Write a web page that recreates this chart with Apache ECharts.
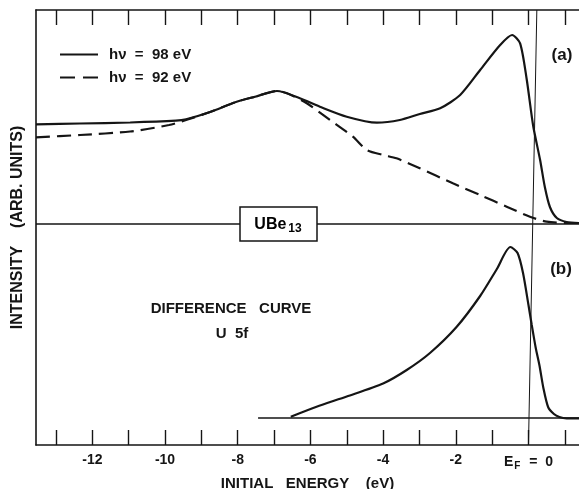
<!DOCTYPE html>
<html><head><meta charset="utf-8">
<script src="https://cdn.jsdelivr.net/npm/echarts@6/dist/echarts.min.js"></script>
<style>html,body{margin:0;padding:0;background:#fff}#c{width:579px;height:489px}</style>
</head><body><div id="c"></div>
<script>
const FONT = '"Liberation Sans", Arial, Helvetica, sans-serif';
const INK = '#151515';

// x axis (initial energy, eV)
const xTicks = [-13,-12,-11,-10,-9,-8,-7,-6,-5,-4,-3,-2,-1,0,1];
const xLabels = [-12,-10,-8,-6,-4,-2,0];

// panel (a): hv = 98 eV (solid)
const e98 = [-13.55,-12.34,-10.96,-9.70,-9.42,-8.76,-8.05,-7.52,-6.92,-6.29,-5.74,-5.00,-4.17,-3.54,-2.99,-2.43,-1.88,-1.33,-0.78,-0.45,-0.23,-0.05,0.13,0.32,0.45,0.59,0.78,1.05,1.39];
const i98 = [320.7,321.5,322.5,324.3,325.7,333,343,348.3,354,346.7,338.3,328.3,322.3,325,331,336.7,350,375,400,410,401.7,366,319,285,258,238,227,223,222];

// panel (a): hv = 92 eV (dashed)
const e92 = [-13.55,-12.34,-10.96,-9.89,-9.42,-8.76,-8.05,-7.52,-6.92,-6.64,-6.10,-5.46,-4.83,-4.45,-4.00,-3.63,-2.99,-2.08,-1.33,-0.60,0.04,0.50,1.05,1.39];
const i92 = [307.7,310,313.5,320,325,333,343,348.3,354,351.7,341.7,325,308.3,295,290,286.7,276.7,261.7,250,238.3,228.3,223.3,222,222];

// panel (b): difference curve, U 5f
const eDiff = [-6.54,-5.83,-5.0,-4.0,-3.35,-2.71,-1.98,-1.33,-0.87,-0.5,-0.3,-0.15,0.0,0.09,0.2,0.3,0.41,0.54,0.7,0.85,1.05,1.39];
const iDiff = [28.3,38.3,48.5,61.5,75,92,118,149,176,198,192,172,140,120,97,80,57,38,31,28,26.7,26.7];

// reference lines
const baseAE = [-13.55,1.39], baseAI = [221,221];
const baseBE = [-7.44,1.39], baseBI = [27,27];
const efE = [0.23,0], efI = [435,0];

const zip = (a,b) => a.map((v,k)=>[v,b[k]]);
const XMIN = -13.55, XMAX = 1.39;

const chart = echarts.init(document.getElementById('c'));
const tickStyle = {inside:true, length:15, customValues:xTicks, lineStyle:{color:INK,width:1.4}};
const txt = (size) => ({fontFamily:FONT, fontWeight:'bold', fontSize:size, color:INK});

chart.setOption({
  backgroundColor:'#fff',
  animation:false,
  grid:{left:36,right:0,top:10,bottom:44,containLabel:false,outerBoundsMode:'none'},
  xAxis:[{
    type:'value', min:XMIN, max:XMAX, position:'bottom',
    axisLine:{onZero:false, lineStyle:{color:INK,width:1.6}},
    axisTick:tickStyle,
    splitLine:{show:false},
    axisLabel:Object.assign({
      customValues:xLabels, margin:8,
      formatter:v => v===0 ? '{e|E}{s|F}{e|  =  0}' : '-' + Math.abs(v),
      rich:{e:txt(14), s:Object.assign(txt(10),{padding:[8,1,0,1]})}
    }, txt(14)),
    name:'INITIAL   ENERGY    (eV)', nameLocation:'middle', nameGap:19,
    nameTextStyle:txt(15)
  },{
    type:'value', min:XMIN, max:XMAX, position:'top',
    axisLine:{onZero:false, lineStyle:{color:INK,width:1.6}},
    axisTick:tickStyle, axisLabel:{show:false}, splitLine:{show:false}
  }],
  yAxis:{
    type:'value', min:0, max:435, position:'left',
    axisLine:{show:true, onZero:false, lineStyle:{color:INK,width:1.6}},
    axisTick:{show:false}, axisLabel:{show:false}, splitLine:{show:false},
    name:'INTENSITY    (ARB. UNITS)', nameLocation:'middle', nameGap:10,
    nameTextStyle:txt(16)
  },
  legend:{
    data:[{name:'hν  =  98 eV'},{name:'hν  =  92 eV', lineStyle:{type:[15,8]}}],
    orient:'vertical', left:54, top:42,
    itemWidth:38, itemHeight:14, itemGap:8, selectedMode:false,
    itemStyle:{opacity:0},
    textStyle:Object.assign(txt(15),{padding:[0,0,0,6]})
  },
  series:[
    {type:'line', name:'hν  =  98 eV', data:zip(e98,i98), symbol:'none', smooth:0.25,
     lineStyle:{color:INK,width:2.2}, itemStyle:{color:INK}, z:5},
    {type:'line', name:'hν  =  92 eV', data:zip(e92,i92), symbol:'none', smooth:0.25,
     lineStyle:{color:INK,width:2.2,type:[14,7]}, itemStyle:{color:INK}, z:4},
    {type:'line', name:'difference', data:zip(eDiff,iDiff), symbol:'none', smooth:0.25,
     lineStyle:{color:INK,width:2.2}, z:5},
    {type:'line', name:'baseA', data:zip(baseAE,baseAI), symbol:'none', lineStyle:{color:INK,width:1.3}, z:3},
    {type:'line', name:'baseB', data:zip(baseBE,baseBI), symbol:'none', lineStyle:{color:INK,width:1.3}, z:3},
    {type:'line', name:'EF', data:zip(efE,efI), symbol:'none', lineStyle:{color:INK,width:1}, z:3}
  ],
  graphic:[
    {type:'rect', z:100, shape:{x:240,y:207,width:77,height:34}, style:{fill:'#fff',stroke:INK,lineWidth:1.5}},
    {type:'text', z:101, x:278, y:225, style:{text:'{a|UBe}{b|13}', align:'center', verticalAlign:'middle',
      rich:{a:txt(16), b:Object.assign(txt(12),{padding:[8,0,0,2]})}}},
    {type:'text', z:101, x:562, y:55, style:{text:'(a)', align:'center', verticalAlign:'middle', font:'bold 17px '+FONT, fill:INK}},
    {type:'text', z:101, x:561, y:269, style:{text:'(b)', align:'center', verticalAlign:'middle', font:'bold 17px '+FONT, fill:INK}},
    {type:'text', z:101, x:231, y:309, style:{text:'DIFFERENCE   CURVE', align:'center', verticalAlign:'middle', font:'bold 15px '+FONT, fill:INK}},
    {type:'text', z:101, x:232, y:334, style:{text:'U  5f', align:'center', verticalAlign:'middle', font:'bold 15px '+FONT, fill:INK}}
  ]
});
</script></body></html>
